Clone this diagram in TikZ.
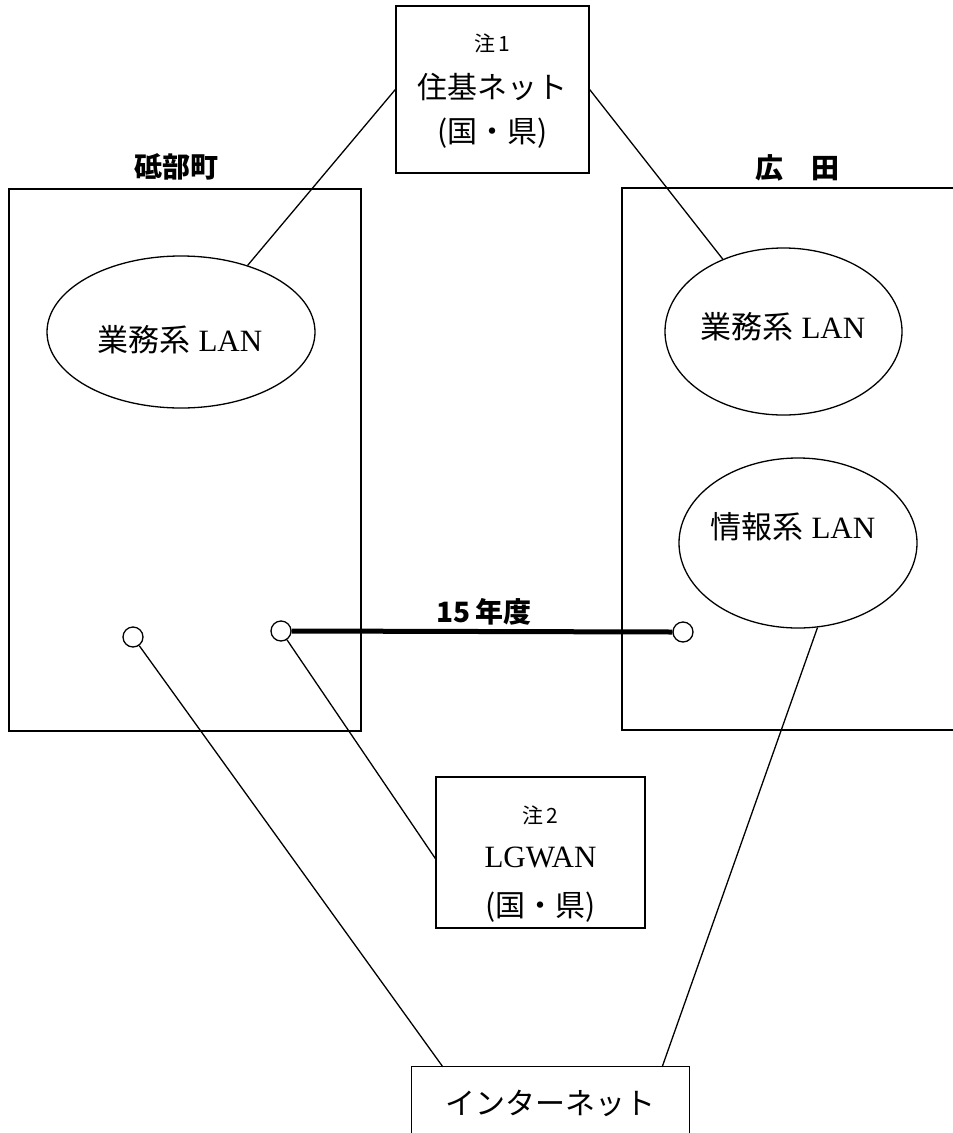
\documentclass[tikz,border=0pt]{standalone}
\usepackage{fontspec}
\setmainfont{Liberation Serif}
\newfontfamily\jp{Noto Sans CJK JP}
\usetikzlibrary{shapes.geometric}
\begin{document}
\begin{tikzpicture}[x=1pt,y=-1pt,
  box/.style={draw,line width=1.3pt,inner sep=0pt},
  lan/.style={draw,ellipse,line width=1.3pt,inner sep=0pt},
  conn/.style={line width=1.3pt},
  port/.style={draw,circle,line width=1.3pt,minimum size=20pt,inner sep=0pt,fill=white},
  title/.style={font=\jp\bfseries\fontsize{28}{30}\selectfont},
  big/.style={font=\jp\fontsize{30}{32}\selectfont},
  small/.style={font=\jp\fontsize{21}{24}\selectfont},
  lantxt/.style={font=\fontsize{31}{34}\selectfont}]
\useasboundingbox (0,0) rectangle (953,1133);
% municipality frames
\node[box,minimum width=352pt,minimum height=542pt] (tobe) at (185,460) {};
\node[title] (tobeL) at (176,167) {砥部町};
\draw[line width=1.3pt] (953,188) -- (622,188) -- (622,730) -- (953,730);
\node[title] (hiroL) at (797,168) {広\hspace{1em}田};
% Juki net box
\node[box,minimum width=193pt,minimum height=167pt] (juki) at (492.5,89.5) {};
\node[small] (jukiA) at (492.5,43) {注\,1};
\node[big] (jukiB) at (492.5,87) {住基ネット};
\node[big] (jukiC) at (492.5,133) {(国・県)};
% LANs
\node[lan,minimum width=268pt,minimum height=152pt] (lgm) at (181,332) {};
\node[lantxt] at (180,340) {{\jp 業務系} LAN};
\node[lan,minimum width=237pt,minimum height=167pt] (rgm) at (783.5,331.5) {};
\node[lantxt] at (783,327) {{\jp 業務系} LAN};
\node[lan,minimum width=238pt,minimum height=170pt] (jh) at (798,543) {};
\node[lantxt] at (793,527) {{\jp 情報系} LAN};
% LGWAN box
\node[box,minimum width=209pt,minimum height=151pt] (lg) at (540.5,852.5) {};
\node[small] (lgA) at (540.5,815) {注\,2};
\node[lantxt] (lgB) at (540.5,857) {LGWAN};
\node[big] (lgC) at (540.5,907) {(国・県)};
% Internet box (open at bottom)
\node[minimum width=277pt,minimum height=66pt,inner sep=0pt] (inet) at (550.5,1100) {};
\draw[line width=1.3pt] (inet.south west) |- (inet.north east) -- (inet.south east);
\node[big] (inetT) at (550.5,1103) {インターネット};
\coordinate (inetL) at ([xshift=31pt]inet.north west);
\coordinate (inetR) at ([xshift=-27pt]inet.north east);
% connectors
\draw[conn] (juki.west) -- (lgm.45);
\draw[conn] (juki.east) -- (rgm.130);
\node[port] (ca) at (133,637) {};
\node[port] (cb) at (281,631) {};
\node[port] (cr) at (683,632) {};
\draw[line width=5pt] (cb.east) -- (cr.west);
\node[title] (nendo) at (484,612) {15\,年度};
\draw[conn] (cb) -- ([yshift=-6pt]lg.west);
\draw[conn] (ca) -- (inetL);
\draw[conn] (jh.-77) -- (inetR);
\end{tikzpicture}
\end{document}
